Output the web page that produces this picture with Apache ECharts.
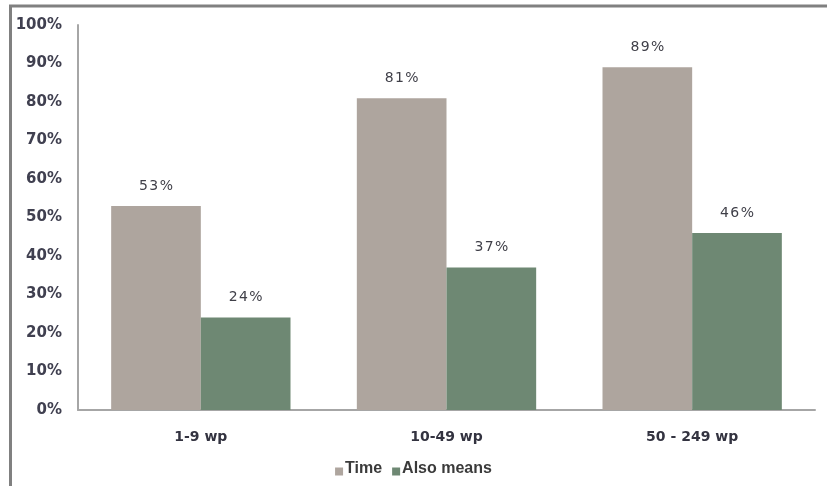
<!DOCTYPE html>
<html>
<head>
<meta charset="utf-8">
<script src="https://cdn.jsdelivr.net/npm/echarts@6/dist/echarts.min.js"></script>
<style>
  html, body { margin: 0; padding: 0; background: #ffffff; }
  #chart { width: 827px; height: 486px; }
</style>
</head>
<body>
<div id="chart"></div>
<script>
// Company size bands
const categories = ['1-9 wp', '10-49 wp', '50 - 249 wp'];
// Share of respondents (%)
const timeValues = [53, 81, 89];
const alsoMeansValues = [24, 37, 46];
// Y axis scale
const yMin = 0;
const yMax = 100;
const yStep = 10;

const seriesNames = ['Time', 'Also means'];
const colors = ['#aea59e', '#6e8873'];

const chart = echarts.init(document.getElementById('chart'), null, { renderer: 'canvas' });

// spread glyphs of a value label a little apart
const spaced = s => String(s).split('').join('\u200a');

const valueLabel = {
  show: true,
  position: 'top',
  distance: 13,
  formatter: p => spaced(p.value + '%'),
  fontFamily: 'DejaVu Sans',
  fontSize: 14,
  color: '#3f3f48'
};

// small square sitting on the text baseline
const legendIcon = 'path://M0,0M0,5L8,5L8,13L0,13Z';

chart.setOption({
  animation: false,
  backgroundColor: '#ffffff',
  color: colors,
  grid: { left: 78, right: 12, top: 25, bottom: 76, containLabel: false },
  legend: {
    bottom: 4,
    left: 'center',
    itemWidth: 8,
    itemHeight: 13,
    itemGap: 10,
    icon: legendIcon,
    textStyle: {
      fontFamily: 'Liberation Sans',
      fontWeight: 'bold',
      fontSize: 16,
      color: '#3a3a3a',
      padding: [0, 0, 0, -3]
    },
    data: seriesNames
  },
  xAxis: {
    type: 'category',
    data: categories,
    axisLine: { show: true, lineStyle: { color: '#a6a6a6', width: 2 } },
    axisTick: { show: false },
    axisLabel: {
      margin: 20,
      fontFamily: 'DejaVu Sans',
      fontWeight: 'bold',
      fontSize: 14,
      color: '#333340'
    }
  },
  yAxis: {
    type: 'value',
    min: yMin,
    max: yMax,
    interval: yStep,
    splitLine: { show: false },
    axisLine: { show: true, lineStyle: { color: '#a6a6a6', width: 2 } },
    axisTick: { show: false },
    axisLabel: {
      formatter: v => v + '%',
      margin: 16,
      fontFamily: 'DejaVu Sans',
      fontWeight: 'bold',
      fontSize: 15,
      color: '#404050'
    }
  },
  series: [
    {
      name: seriesNames[0],
      type: 'bar',
      data: timeValues,
      barGap: '0%',
      barCategoryGap: '27%',
      itemStyle: { color: colors[0] },
      label: valueLabel
    },
    {
      name: seriesNames[1],
      type: 'bar',
      data: alsoMeansValues,
      itemStyle: { color: colors[1] },
      label: valueLabel
    }
  ],
  graphic: [
    // outer frame: left and top edges
    {
      type: 'polyline',
      silent: true,
      shape: { points: [[10.5, 486], [10.5, 6], [827, 6]] },
      style: { stroke: '#808080', lineWidth: 3, fill: null }
    }
  ]
});
</script>
</body>
</html>
